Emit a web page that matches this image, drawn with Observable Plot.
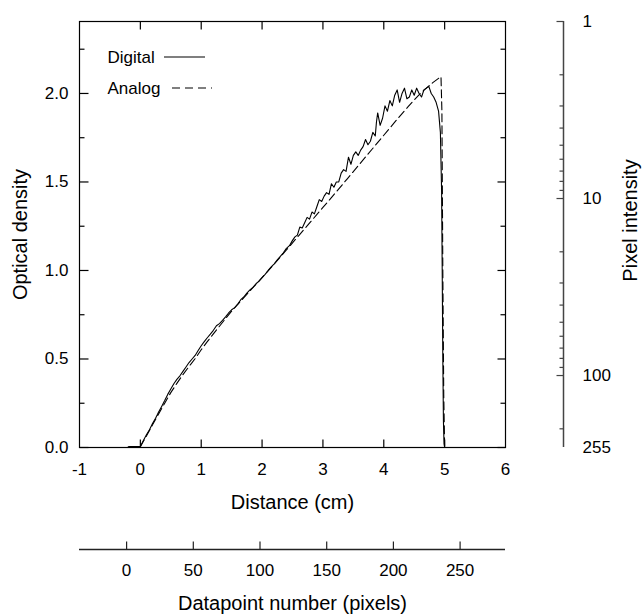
<!DOCTYPE html>
<html><head><meta charset="utf-8">
<script src="https://cdn.jsdelivr.net/npm/d3@7"></script>
<script src="https://cdn.jsdelivr.net/npm/@observablehq/plot@0.6"></script>
<style>html,body{margin:0;padding:0;background:#fff}</style>
</head><body><div id="chart"></div>
<script>
// ---- data ----
const digitalDistance = [-1.0,-0.2,-0.18,-0.02,0.0,0.05,0.1,0.15,0.2,0.25,0.3,0.35,0.4,0.45,0.5,0.55,0.6,0.65,0.7,0.75,0.8,0.85,0.9,0.95,1.0,1.05,1.1,1.15,1.2,1.25,1.3,1.35,1.4,1.45,1.5,1.55,1.6,1.65,1.7,1.75,1.8,1.85,1.9,1.95,2.0,2.05,2.1,2.15,2.2,2.25,2.3,2.35,2.4,2.45,2.5,2.54,2.58,2.62,2.66,2.7,2.74,2.78,2.82,2.86,2.9,2.94,2.98,3.02,3.06,3.1,3.14,3.18,3.22,3.26,3.3,3.34,3.38,3.42,3.46,3.5,3.54,3.58,3.62,3.66,3.7,3.74,3.78,3.82,3.86,3.88,3.9,3.94,3.98,4.02,4.06,4.1,4.14,4.18,4.22,4.26,4.3,4.34,4.38,4.42,4.46,4.5,4.54,4.58,4.62,4.66,4.7,4.74,4.78,4.82,4.86,4.9,4.93,4.95,4.96,4.97,4.98,4.99,5.0];
const digitalOD = [0,0,0.005,0.005,0.006,0.04,0.072,0.1,0.135,0.165,0.2,0.232,0.265,0.3,0.33,0.36,0.385,0.405,0.43,0.455,0.48,0.5,0.52,0.548,0.575,0.598,0.62,0.64,0.662,0.688,0.7,0.718,0.738,0.76,0.778,0.79,0.81,0.835,0.85,0.872,0.89,0.905,0.925,0.94,0.96,0.978,1.0,1.02,1.038,1.06,1.08,1.1,1.125,1.14,1.17,1.19,1.2,1.245,1.24,1.27,1.3,1.29,1.33,1.32,1.36,1.4,1.39,1.42,1.44,1.43,1.49,1.47,1.5,1.5,1.55,1.57,1.56,1.64,1.6,1.65,1.67,1.65,1.68,1.7,1.74,1.71,1.73,1.78,1.76,1.84,1.89,1.82,1.86,1.93,1.9,1.96,1.93,1.99,2.02,1.95,2.0,2.03,1.97,1.98,2.02,1.99,2.03,2.0,1.98,2.02,2.03,2.04,2.0,1.98,1.95,1.9,1.78,1.45,1.0,0.5,0.15,0.02,0];
const analogDistance = [-0.2,0.0,0.05,0.1,0.2,0.3,0.4,0.5,0.6,0.7,0.8,0.9,1.0,1.1,1.2,1.3,1.4,1.5,1.6,1.7,1.8,1.9,2.0,2.1,2.2,2.3,2.4,2.6,2.8,3.0,3.2,3.4,3.6,3.8,4.0,4.2,4.4,4.6,4.8,4.9,4.94,4.955,4.97,4.985,5.0];
const analogOD = [0.004,0.004,0.035,0.065,0.128,0.19,0.25,0.31,0.362,0.412,0.458,0.502,0.552,0.598,0.642,0.685,0.728,0.77,0.808,0.846,0.884,0.922,0.96,0.998,1.036,1.076,1.116,1.196,1.276,1.356,1.436,1.518,1.6,1.682,1.764,1.846,1.926,2.0,2.06,2.085,2.095,1.9,1.0,0.3,0];

// ---- tick labels / axis definitions ----
const distanceDomain = [-1, 6];
const distanceTicks = [-1, 0, 1, 2, 3, 4, 5, 6];
const innerDistanceTicks = [0, 1, 2, 3, 4, 5];
const odMajorTicks = [0, 0.5, 1.0, 1.5, 2.0];
const odMinorTicks = [0.25, 0.75, 1.25, 1.75, 2.25];
const maxIntensity = 255;
const intensityLabels = [1, 10, 100, 255];
const intensityMajorTicks = [1, 10, 100];
const intensityMinorTicks = [2, 3, 4, 5, 6, 7, 8, 9, 20, 30, 40, 50, 60, 70, 80, 90, 200];
const datapointTicks = [0, 50, 100, 150, 200, 250];
const datapointZeroCm = -0.226;
const cmPerDatapoint = 0.02192;

const toOD = i => Math.log10(maxIntensity / i);
const dpToCm = p => datapointZeroCm + p * cmPerDatapoint;
const odDomain = [0, toOD(1)];

const digital = digitalDistance.map((d, i) => ({d, od: digitalOD[i]}));
const analog = analogDistance.map((d, i) => ({d, od: analogOD[i]}));
const fmt1 = d3.format(".1f");

// layout
const W = 643, H = 615, mL = 79, mR = 138, mT = 21, mB = 168;
const fw = W - mL - mR, fh = H - mT - mB;
const cmPerPx = (distanceDomain[1] - distanceDomain[0]) / fw;
const odPerPx = (odDomain[1] - odDomain[0]) / fh;
const dpOffset = 102;     // datapoint axis below the frame
const intOffset = 58;     // intensity axis right of the frame

const hTick = (values, xEdge, lenPx, opts) => Plot.link(values, {
  x1: () => xEdge, x2: () => xEdge + lenPx * cmPerPx, y1: d => d, y2: d => d, strokeWidth: 1.2, ...opts});
const vTick = (values, yEdge, lenPx, opts) => Plot.link(values, {
  x1: d => d, x2: d => d, y1: () => yEdge, y2: () => yEdge + lenPx * odPerPx, strokeWidth: 1.2, ...opts});

const x0 = distanceDomain[0], x1 = distanceDomain[1];
const y0 = odDomain[0], y1 = odDomain[1];

const chart = Plot.plot({
  width: W,
  height: H,
  marginLeft: mL,
  marginRight: mR,
  marginTop: mT,
  marginBottom: mB,
  style: {fontFamily: "'Liberation Sans', Arial, sans-serif", fontSize: "17px", color: "black", background: "white", overflow: "visible"},
  x: {domain: distanceDomain},
  y: {domain: odDomain},
  marks: [
    Plot.frame({stroke: "black", strokeWidth: 1.2}),
    // inward ticks on all four sides
    hTick(odMajorTicks, x0, 9, {stroke: "black"}),
    hTick(odMinorTicks, x0, 5, {stroke: "black"}),
    hTick(odMajorTicks, x1, -8, {stroke: "black"}),
    hTick(odMinorTicks, x1, -5, {stroke: "black"}),
    vTick(innerDistanceTicks, y0, 8, {stroke: "black"}),
    vTick(innerDistanceTicks, y1, -8, {stroke: "black"}),
    // tick labels
    Plot.axisY(odMajorTicks, {anchor: "left", tickSize: 0, tickPadding: 11, tickFormat: fmt1, fontSize: 17, label: null}),
    Plot.axisX(distanceTicks, {anchor: "bottom", tickSize: 0, tickPadding: 15, tickFormat: d => String(d), fontSize: 17, label: null}),
    // datapoint axis below
    Plot.ruleY([0], {dy: dpOffset, stroke: "#222", strokeWidth: 1.3}),
    vTick(datapointTicks.map(dpToCm), y0, 8, {stroke: "#222", dy: dpOffset}),
    Plot.axisX(datapointTicks.map(dpToCm), {anchor: "bottom", dy: dpOffset, tickSize: 0, tickPadding: 14, fontSize: 17, label: null,
      tickFormat: v => String(Math.round((v - datapointZeroCm) / cmPerDatapoint))}),
    // pixel intensity axis on the right
    Plot.ruleX([x1], {y1: 0, y2: toOD(1), dx: intOffset, stroke: "#444", strokeWidth: 1.5}),
    hTick(intensityMajorTicks.map(toOD), x1, -7, {stroke: "#444", dx: intOffset}),
    hTick(intensityMinorTicks.map(toOD), x1, -4, {stroke: "#444", dx: intOffset}),
    Plot.axisY(intensityLabels.map(toOD), {anchor: "right", dx: intOffset, tickSize: 0, tickPadding: 19, fontSize: 17, label: null,
      tickFormat: v => String(Math.round(maxIntensity / Math.pow(10, v)))}),
    // axis titles
    Plot.text(["Distance (cm)"], {text: d => d, frameAnchor: "bottom", dy: 55, fontSize: 20, textAnchor: "middle", lineAnchor: "middle"}),
    Plot.text(["Datapoint number (pixels)"], {text: d => d, frameAnchor: "bottom", dy: 156, fontSize: 20, textAnchor: "middle", lineAnchor: "middle"}),
    Plot.text(["Optical density"], {text: d => d, frameAnchor: "left", dx: -59, rotate: -90, fontSize: 20, textAnchor: "middle", lineAnchor: "middle"}),
    Plot.text(["Pixel intensity"], {text: d => d, frameAnchor: "right", dx: 125, dy: -14, rotate: -90, fontSize: 20, textAnchor: "middle", lineAnchor: "middle"}),
    // data
    Plot.line(digital, {x: "d", y: "od", stroke: "black", strokeWidth: 1.1}),
    Plot.line(analog, {x: "d", y: "od", stroke: "black", strokeWidth: 1.1, strokeDasharray: "8,4"}),
    // legend labels
    Plot.text(["Digital"], {text: d => d, frameAnchor: "top-left", dx: 28, dy: 36, textAnchor: "start", lineAnchor: "middle", fontSize: 17}),
    Plot.text(["Analog"], {text: d => d, frameAnchor: "top-left", dx: 28, dy: 67, textAnchor: "start", lineAnchor: "middle", fontSize: 17})
  ]
});
document.getElementById("chart").appendChild(chart);

// legend samples
const svg = d3.select(chart);
const lg = svg.append("g").attr("stroke", "black").attr("stroke-width", 1.1);
lg.append("line").attr("x1", 164).attr("x2", 205).attr("y1", 57).attr("y2", 57);
lg.append("line").attr("x1", 172).attr("x2", 212).attr("y1", 88).attr("y2", 88).attr("stroke-dasharray", "8,5");
</script>
</body></html>
